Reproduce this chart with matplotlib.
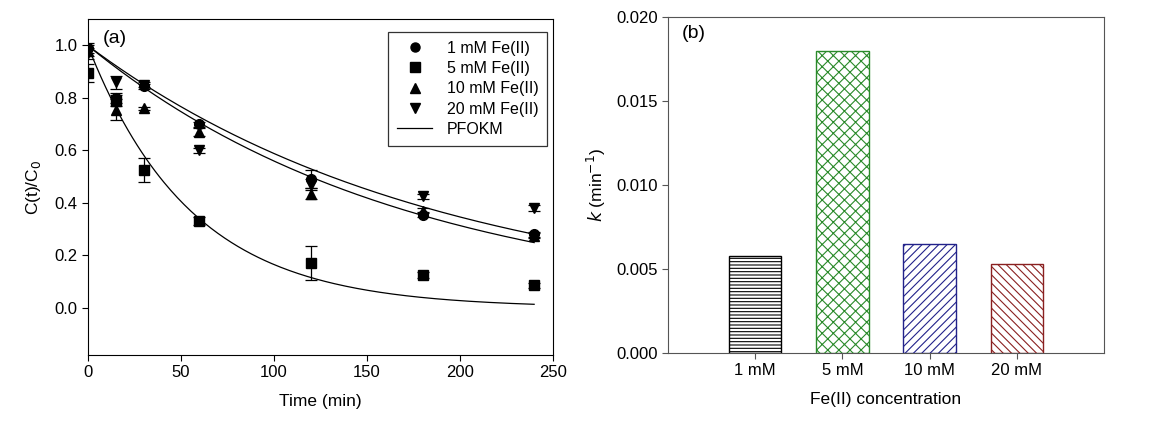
import numpy as np
import matplotlib
matplotlib.use("Agg")
from matplotlib import pyplot as plt
from matplotlib.lines import Line2D

plt.rcParams['font.family'] = ['Liberation Sans', 'DejaVu Sans']
plt.rcParams['hatch.linewidth'] = 0.8

# kinetic data, C(t)/C0
time_min = [0, 15, 30, 60, 120, 180, 240]
c_1mM = [0.99, 0.80, 0.845, 0.70, 0.49, 0.355, 0.28]
c_5mM = [0.895, 0.79, 0.525, 0.33, 0.17, 0.125, 0.085]
c_10mM = [0.98, 0.755, 0.76, 0.67, 0.435, 0.37, 0.275]
c_20mM = [0.97, 0.86, 0.85, 0.60, 0.47, 0.425, 0.38]
err_1mM = [0.02, 0.02, 0.01, 0.01, 0.035, 0.01, 0.01]
err_5mM = [0.035, 0.02, 0.045, 0.015, 0.065, 0.01, 0.008]
err_10mM = [0.02, 0.04, 0.005, 0.015, 0.02, 0.01, 0.01]
err_20mM = [0.02, 0.025, 0.01, 0.01, 0.02, 0.01, 0.01]

# rate constants (min-1)
conc_labels = ['1 mM', '5 mM', '10 mM', '20 mM']
k_values = [0.0058, 0.018, 0.0065, 0.0053]
# model curves drawn in panel (a): 1, 5 and 20 mM
fit_index = [0, 1, 3]

fig = plt.figure(figsize=(11.59, 4.25), dpi=100)
ax1 = fig.add_axes([0.0757, 0.1647, 0.4012, 0.79])
ax2 = fig.add_axes([0.5764, 0.1694, 0.3762, 0.7906])

series = [(c_1mM, err_1mM, 'o', '1 mM Fe(II)'),
          (c_5mM, err_5mM, 's', '5 mM Fe(II)'),
          (c_10mM, err_10mM, '^', '10 mM Fe(II)'),
          (c_20mM, err_20mM, 'v', '20 mM Fe(II)')]
handles = []
for vals, errs, mk, lab in series:
    ax1.errorbar(time_min, vals, yerr=errs, fmt=mk, color='black', ms=7,
                 ecolor='black', elinewidth=0.9, capsize=4, capthick=0.9)
    handles.append(Line2D([], [], ls='none', marker=mk, color='black', ms=6.5, label=lab))

t_fit = np.linspace(0, 240, 200)
for i in fit_index:
    ax1.plot(t_fit, np.exp(-k_values[i] * t_fit), color='black', lw=0.9)
handles.append(Line2D([], [], color='black', lw=0.9, label='PFOKM'))

ax1.set_xlim(0, 250)
ax1.set_ylim(-0.18, 1.1)
ax1.set_xticks([0, 50, 100, 150, 200, 250])
ax1.set_yticks([0.0, 0.2, 0.4, 0.6, 0.8, 1.0])
ax1.set_yticklabels(['0.0', '0.2', '0.4', '0.6', '0.8', '1.0'])
ax1.tick_params(direction='out', length=4, labelsize=12)
ax1.set_xlabel('Time (min)', fontsize=12.5, labelpad=10)
ax1.set_ylabel('C(t)/C$_0$', fontsize=12.5, labelpad=8)
ax1.text(0.033, 0.944, '(a)', transform=ax1.transAxes, fontsize=14, va='center')
leg = ax1.legend(handles=handles, loc='upper right', bbox_to_anchor=(0.988, 0.962),
                 borderaxespad=0, fontsize=11.5, frameon=True, fancybox=False,
                 edgecolor='black', handlelength=2.2, handletextpad=0.9,
                 borderpad=0.55, labelspacing=0.33)
leg.get_frame().set_linewidth(0.9)

# panel (b)
bar_colors = ['black', '#2a8a2a', '#22228a', '#8a2020']
hatches = ['-----', 'xxx', '////', '\\\\\\\\']
x_pos = np.arange(1, len(k_values) + 1)
bars = ax2.bar(x_pos, k_values, width=0.6, color='white',
               edgecolor=bar_colors, linewidth=1.0)
for b, h in zip(bars, hatches):
    b.set_hatch(h)

ax2.set_xlim(0, 5)
ax2.set_ylim(0, 0.02)
ax2.set_xticks(x_pos)
ax2.set_xticklabels(conc_labels)
ax2.set_yticks([0.0, 0.005, 0.010, 0.015, 0.020])
ax2.set_yticklabels(['0.000', '0.005', '0.010', '0.015', '0.020'])
ax2.tick_params(direction='out', length=4, labelsize=12, color='#555555')
for s in ax2.spines.values():
    s.set_color('#555555')
ax2.set_xlabel('Fe(II) concentration', fontsize=12.5, labelpad=10)
ax2.set_ylabel('$\\it{k}$ (min$^{-1}$)', fontsize=12.5, labelpad=6)
ax2.text(0.032, 0.952, '(b)', transform=ax2.transAxes, fontsize=14, va='center')

fig.savefig('out.png', dpi=100)
